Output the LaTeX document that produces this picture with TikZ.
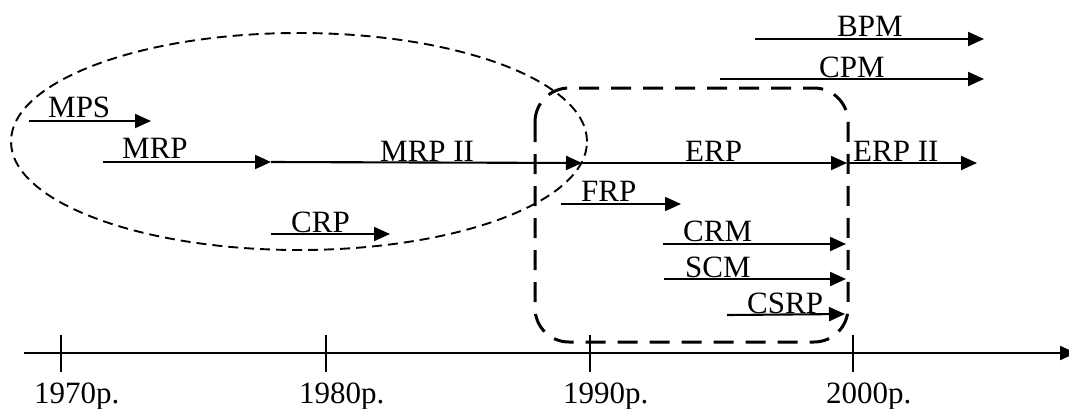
\documentclass[tikz,border=0pt]{standalone}
\usepackage{fontspec}
\setmainfont{Liberation Serif}
\usetikzlibrary{arrows.meta}
\begin{document}
\begin{tikzpicture}[x=1pt,y=-1pt,
  lbl/.style={anchor=base west,inner sep=0pt,font=\fontsize{31}{31}\selectfont},
  arr/.style={line width=2.1pt,-{Triangle[length=16pt,width=14pt]}},
  tick/.style={line width=1.2pt},
  ell/.style={line width=1.9pt,dash pattern=on 10pt off 6pt},
  box/.style={line width=3pt,dash pattern=on 20pt off 12pt,rounded corners=34pt}]
\useasboundingbox (0,0) rectangle (1069,408);
% groups
\draw[ell] (299,141.5) ellipse [x radius=288pt, y radius=108.5pt];
\draw[box] (535,88) rectangle (848,342);
% axis
\coordinate (ax0) at (24,353);
\coordinate (ax1) at (1076,353);
\draw[arr] (ax0) -- (ax1);
\foreach \x/\t in {61/1970,326/1980,590/1990,853/2000}{
  \coordinate (t\t a) at (\x,335);
  \coordinate (t\t b) at (\x,372);
  \draw[tick] (t\t a) -- (t\t b);
  \node[lbl] (l\t) at (\x-27,403) {\t p.};
}
% arrows
\coordinate (mps0) at (29,121);  \coordinate (mps1) at (151,121);
\draw[arr] (mps0) -- (mps1);
\node[lbl] (mps) at (48,117) {MPS};
\coordinate (mrp0) at (103,162); \coordinate (mrp1) at (271,162);
\draw[arr] (mrp0) -- (mrp1);
\node[lbl] (mrp) at (122,158) {MRP};
\coordinate (mrpii1) at (582,163);
\draw[arr] (mrp1) -- (mrpii1);
\node[lbl] (mrpii) at (380,161) {MRP II};
\coordinate (crp0) at (271,234); \coordinate (crp1) at (390,234);
\draw[arr] (crp0) -- (crp1);
\node[lbl] (crp) at (291,232) {CRP};
\coordinate (erp1) at (847,163);
\draw[arr] (mrpii1) -- (erp1);
\node[lbl] (erp) at (685,161) {ERP};
\coordinate (erpii1) at (977,163);
\draw[arr] (erp1) -- (erpii1);
\node[lbl] (erpii) at (853,161) {ERP II};
\coordinate (bpm0) at (755,39); \coordinate (bpm1) at (984,39);
\draw[arr] (bpm0) -- (bpm1);
\node[lbl] (bpm) at (837,36) {BPM};
\coordinate (cpm0) at (720,79); \coordinate (cpm1) at (984,79);
\draw[arr] (cpm0) -- (cpm1);
\node[lbl] (cpm) at (819,77) {CPM};
\coordinate (frp0) at (561,204); \coordinate (frp1) at (681,204);
\draw[arr] (frp0) -- (frp1);
\node[lbl] (frp) at (581,201) {FRP};
\coordinate (crm0) at (663,244); \coordinate (crm1) at (846,244);
\draw[arr] (crm0) -- (crm1);
\node[lbl] (crm) at (683,241) {CRM};
\coordinate (scm0) at (664,279); \coordinate (scm1) at (846,279);
\draw[arr] (scm0) -- (scm1);
\node[lbl] (scm) at (685,277) {SCM};
\coordinate (csrp0) at (727,315); \coordinate (csrp1) at (845,314);
\draw[arr] (csrp0) -- (csrp1);
\node[lbl] (csrp) at (747,313) {CSRP};
\end{tikzpicture}
\end{document}
